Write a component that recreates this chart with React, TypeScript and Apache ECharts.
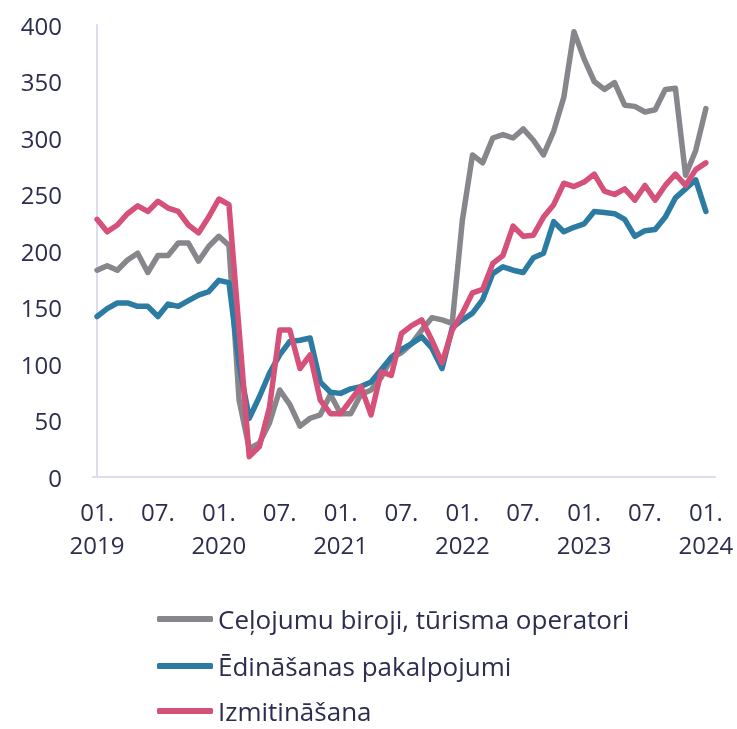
import React, { useEffect, useRef } from "react";
import * as echarts from "echarts";

const tickIndices = [0, 6, 12, 18, 24, 30, 36, 42, 48, 54, 60];
const tickLabels = ["01.\n2019", "07.", "01.\n2020", "07.", "01.\n2021", "07.", "01.\n2022", "07.", "01.\n2023", "07.", "01.\n2024"];

const seriesNames = ["Ceļojumu biroji, tūrisma operatori", "Ēdināšanas pakalpojumi", "Izmitināšana"];

const travel = [
  183, 187, 183, 192, 198, 181, 196, 196, 207, 207, 191, 204,
  213, 205, 68, 25, 30, 48, 77, 64, 45, 52, 55, 73,
  56, 56, 73, 77, 88, 105, 110, 118, 130, 141, 139, 136,
  227, 285, 278, 300, 303, 300, 308, 298, 285, 306, 336, 394,
  370, 350, 343, 349, 329, 328, 323, 325, 343, 344, 267, 289,
  326,
];

const catering = [
  142, 149, 154, 154, 151, 151, 142, 153, 151, 156, 161, 164,
  174, 172, 100, 52, 71, 92, 108, 120, 121, 123, 84, 75,
  74, 78, 80, 84, 95, 106, 113, 118, 124, 114, 96, 132,
  139, 145, 157, 180, 186, 183, 181, 194, 198, 226, 217, 221,
  224, 235, 234, 233, 228, 213, 218, 219, 230, 247, 255, 263,
  235,
];

const accommodation = [
  228, 217, 223, 233, 240, 235, 244, 238, 235, 223, 216, 230,
  246, 241, 130, 18, 27, 62, 130, 130, 96, 108, 68, 56,
  56, 68, 80, 55, 93, 90, 127, 134, 139, 121, 101, 130,
  145, 163, 166, 189, 196, 222, 213, 214, 230, 241, 260, 257,
  261, 268, 253, 250, 255, 245, 258, 245, 258, 268, 258, 272,
  278,
];

const colors = ["#87868b", "#2b7ba2", "#d5517a"];
const textColor = "#2c2d4f";
const axisColor = "#dcdcee";
const font = "'Open Sans', 'Noto Sans', sans-serif";
const legendTops = [606, 653, 698];

export default function App() {
  const ref = useRef<HTMLDivElement>(null);
  useEffect(() => {
    if (!ref.current) return;
    const chart = echarts.init(ref.current, undefined, { renderer: "svg" });
    const toPairs = (arr: number[]) => arr.map((v, i) => [i, v]);
    const all = [travel, catering, accommodation];
    chart.setOption({
      animation: false,
      textStyle: { fontFamily: font },
      grid: { left: 93, right: 22, top: 25, bottom: 252, containLabel: false },
      xAxis: {
        type: "value",
        min: -0.4,
        max: 60.9,
        splitLine: { show: false },
        axisLine: { show: true, lineStyle: { color: axisColor, width: 2 } },
        axisTick: { show: false },
        axisLabel: {
          customValues: tickIndices,
          formatter: (v: number) => {
            const k = tickIndices.indexOf(Math.round(v));
            return k >= 0 ? tickLabels[k] : "";
          },
          color: textColor,
          fontSize: 24,
          fontFamily: font,
          lineHeight: 33,
          margin: 18,
          align: "center",
          verticalAlign: "top",
        },
      },
      yAxis: {
        type: "value",
        min: 0,
        max: 400,
        interval: 50,
        splitLine: { show: false },
        axisLine: { show: true, lineStyle: { color: axisColor, width: 2 } },
        axisTick: { show: false },
        axisLabel: { color: textColor, fontSize: 24, fontFamily: font, margin: 31 },
      },
      legend: seriesNames.map((name, k) => ({
        orient: "horizontal",
        left: 157,
        top: legendTops[k],
        padding: 0,
        itemWidth: 56,
        itemHeight: 6,
        icon: "roundRect",
        textStyle: { color: textColor, fontSize: 26, lineHeight: 26, fontFamily: font },
        data: [name],
      })),
      series: seriesNames.map((name, k) => ({
        name,
        type: "line",
        data: toPairs(all[k]),
        symbol: "none",
        lineStyle: { color: colors[k], width: 5.5, join: "round", cap: "round" },
        itemStyle: { color: colors[k] },
        z: 2 + k,
      })),
    });
    return () => chart.dispose();
  }, []);
  return <div ref={ref} style={{ position: "fixed", left: 0, top: 0, width: 737, height: 729 }} />;
}
